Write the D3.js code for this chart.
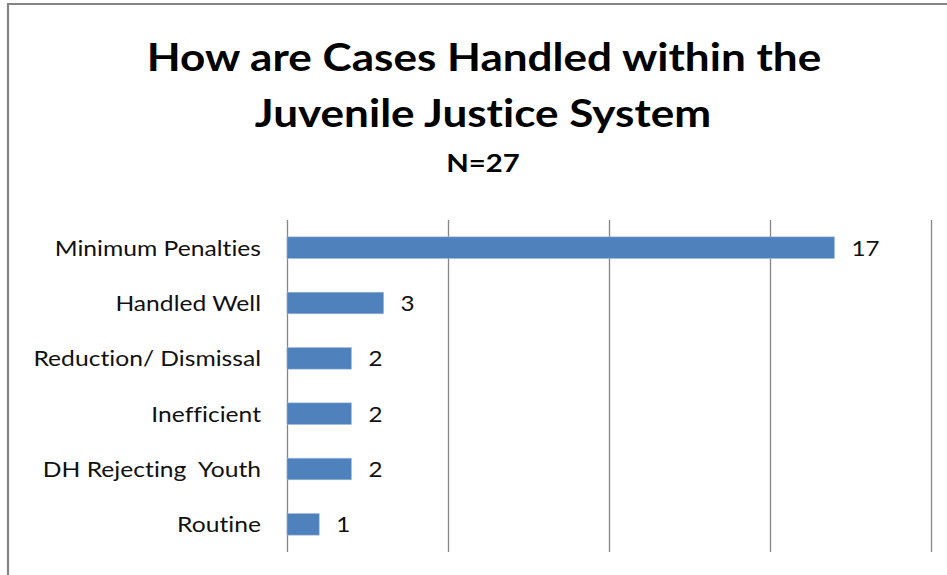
<!DOCTYPE html>
<html>
<head>
<meta charset="utf-8">
<script src="https://cdn.jsdelivr.net/npm/d3@7"></script>
<style>
  html, body { margin: 0; padding: 0; background: #fff; }
  svg { display: block; }
  text { font-variant-ligatures: none; font-feature-settings: "liga" 0, "clig" 0; }
</style>
</head>
<body>
<svg id="chart" width="947" height="575"></svg>
<script>
const titleLines = ["How are Cases Handled within the", "Juvenile Justice System"];
const subtitle = "N=27";
const categories = ["Minimum Penalties", "Handled Well", "Reduction/ Dismissal", "Inefficient", "DH Rejecting  Youth", "Routine"];
const values = [17, 3, 2, 2, 2, 1];
const xTicks = [0, 5, 10, 15, 20];

const svg = d3.select("#chart");
const W = 947, H = 575;
const font = "Lato, 'Open Sans', sans-serif";

// stretch text horizontally by a factor (keeps it real text)
function stretch(sel, k) {
  sel.each(function () {
    const w = this.getComputedTextLength();
    d3.select(this).attr("textLength", w * k).attr("lengthAdjust", "spacingAndGlyphs");
  });
}

// frame
svg.append("rect").attr("x", 0).attr("y", 0).attr("width", W).attr("height", H).attr("fill", "#fff");
svg.append("path").attr("d", `M8,${H} L8,4 L${W},4`).attr("fill", "none").attr("stroke", "#858585").attr("stroke-width", 2.2);

// title
svg.append("text").attr("x", 484).attr("y", 71).attr("text-anchor", "middle")
  .attr("font-family", font).attr("font-weight", 700).attr("font-size", 39).attr("fill", "#000")
  .text(titleLines[0]).call(stretch, 1.13);
svg.append("text").attr("x", 483).attr("y", 127).attr("text-anchor", "middle")
  .attr("font-family", font).attr("font-weight", 700).attr("font-size", 39).attr("fill", "#000")
  .text(titleLines[1]).call(stretch, 1.13);
svg.append("text").attr("x", 483).attr("y", 172).attr("text-anchor", "middle")
  .attr("font-family", font).attr("font-weight", 700).attr("font-size", 24).attr("fill", "#000")
  .text(subtitle).call(stretch, 1.22);

const x = d3.scaleLinear().domain([0, 20]).range([287, 931]);
const y = d3.scaleBand().domain(categories).range([220, 552]).paddingInner(0.61).paddingOuter(0.305);

// gridlines
const grid = svg.append("g").attr("transform", "translate(0,552)")
  .call(d3.axisBottom(x).tickValues(xTicks).tickSize(-(552 - 220)).tickFormat(""));
grid.select(".domain").remove();
grid.selectAll(".tick line").attr("stroke", "#868686").attr("stroke-width", 1.3);

// bars
svg.append("g").selectAll("rect").data(categories).join("rect")
  .attr("x", x(0))
  .attr("y", d => y(d))
  .attr("width", (d, i) => x(values[i]) - x(0))
  .attr("height", y.bandwidth())
  .attr("fill", "#4F81BD")
  .attr("stroke", "#9DB7DA").attr("stroke-width", 0.6);

// category labels
svg.append("g").selectAll("text").data(categories).join("text")
  .attr("x", 261)
  .attr("y", d => y(d) + y.bandwidth() / 2)
  .attr("dy", "0.36em")
  .attr("text-anchor", "end")
  .attr("font-family", font).attr("font-size", 22).attr("fill", "#111")
  .style("white-space", "pre")
  .text(d => d)
  .call(stretch, 1.12);

// value labels
svg.append("g").selectAll("text").data(categories).join("text")
  .attr("x", (d, i) => x(values[i]) + 17)
  .attr("y", d => y(d) + y.bandwidth() / 2)
  .attr("dy", "0.36em")
  .attr("font-family", font).attr("font-size", 22).attr("fill", "#111")
  .text((d, i) => values[i])
  .call(stretch, 1.1);
</script>
</body>
</html>
